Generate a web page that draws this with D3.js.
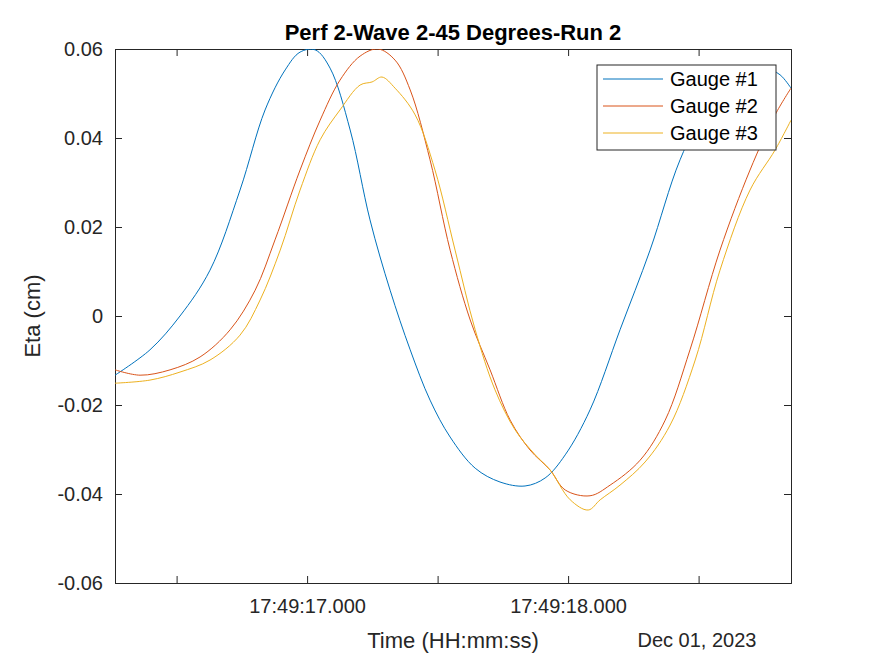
<!DOCTYPE html>
<html>
<head>
<meta charset="utf-8">
<title>Perf 2-Wave 2-45 Degrees-Run 2</title>
<script src="https://cdn.jsdelivr.net/npm/d3@7"></script>
<style>
  body { margin: 0; background: #fff; }
  text { font-family: "Liberation Sans", Arial, sans-serif; }
</style>
</head>
<body>
<div id="chart"></div>
<script>
// seconds after 17:49:16.000 and Eta (cm)
const g1t = [0.264,0.398,0.513,0.628,0.743,0.839,0.916,0.973,1.031,1.088,1.165,1.241,1.318,1.395,1.471,1.548,1.644,1.739,1.835,1.912,1.989,2.084,2.199,2.314,2.429,2.544,2.659,2.755,2.812,2.854];
const g1v = [-0.0133,-0.0076,0.0,0.0103,0.0283,0.0463,0.0553,0.0593,0.0598,0.0557,0.0418,0.0216,0.0058,-0.0076,-0.0189,-0.0272,-0.0342,-0.0373,-0.0382,-0.0364,-0.0312,-0.0211,-0.0031,0.0148,0.0351,0.0485,0.0553,0.0557,0.0542,0.0512];
const g2t = [0.264,0.360,0.475,0.590,0.705,0.801,0.877,0.973,1.050,1.126,1.203,1.272,1.337,1.395,1.471,1.548,1.625,1.701,1.778,1.854,1.931,1.989,2.084,2.161,2.276,2.372,2.467,2.582,2.697,2.793,2.854];
const g2v = [-0.0121,-0.0133,-0.0121,-0.0092,-0.0031,0.0058,0.0171,0.0328,0.0440,0.0530,0.0584,0.0600,0.0575,0.0508,0.0351,0.0148,-0.0009,-0.0121,-0.0234,-0.0301,-0.0346,-0.0391,-0.0404,-0.0380,-0.0324,-0.0234,-0.0076,0.0148,0.0328,0.0452,0.0512];
const g3t = [0.264,0.398,0.513,0.628,0.743,0.820,0.897,0.973,1.050,1.126,1.203,1.249,1.287,1.337,1.414,1.490,1.567,1.644,1.720,1.797,1.874,1.931,2.008,2.077,2.123,2.199,2.295,2.391,2.487,2.582,2.697,2.793,2.854];
const g3v = [-0.0151,-0.0144,-0.0126,-0.0099,-0.0043,0.0036,0.0148,0.0283,0.0396,0.0463,0.0519,0.0526,0.0537,0.0512,0.0452,0.0328,0.0148,-0.0031,-0.0166,-0.0256,-0.0312,-0.0346,-0.0413,-0.0436,-0.0413,-0.0380,-0.0328,-0.0245,-0.0099,0.0103,0.0283,0.0373,0.0440];
const seriesNames = ["Gauge #1", "Gauge #2", "Gauge #3"];
const colors = ["#0072BD", "#D95319", "#EDB120"];
const yTicks = [-0.06, -0.04, -0.02, 0, 0.02, 0.04, 0.06];
const yLabels = ["-0.06", "-0.04", "-0.02", "0", "0.02", "0.04", "0.06"];

const width = 875, height = 656;
const L = 115, R = 791, T = 49, B = 583;
const base = new Date(2023, 11, 1, 17, 49, 16);
const toDate = s => new Date(base.getTime() + s * 1000);

const svg = d3.select("#chart").append("svg")
    .attr("width", width).attr("height", height);

const x = d3.scaleTime().domain([toDate(0.264), toDate(2.854)]).range([L, R]);
const y = d3.scaleLinear().domain([-0.06, 0.06]).range([B, T]);

svg.append("rect").attr("x", L).attr("y", T).attr("width", R - L).attr("height", B - T)
    .attr("fill", "#fff");

svg.append("clipPath").attr("id", "clip").append("rect")
    .attr("x", L).attr("y", T).attr("width", R - L).attr("height", B - T);

const xTickVals = [0.5, 1, 1.5, 2, 2.5].map(toDate);
const fmt = d3.timeFormat("%H:%M:%S.%L");
const xAxis = d3.axisBottom(x).tickValues(xTickVals).tickSize(-7).tickPadding(16)
    .tickFormat(d => d.getMilliseconds() === 0 ? fmt(d) : "");
const xTop = d3.axisTop(x).tickValues(xTickVals).tickSize(-7).tickFormat("");
const yAxis = d3.axisLeft(y).tickValues(yTicks).tickSize(-7).tickPadding(12)
    .tickFormat((d, i) => yLabels[i]);
const yRight = d3.axisRight(y).tickValues(yTicks).tickSize(-7).tickFormat("");

function style(g) {
  g.select(".domain").attr("stroke", "#262626");
  g.selectAll(".tick line").attr("stroke", "#262626");
  g.selectAll("text").attr("fill", "#262626").style("font-size", "20px");
}
svg.append("g").attr("transform", `translate(0,${B})`).call(xAxis).call(style);
svg.append("g").attr("transform", `translate(0,${T})`).call(xTop).call(style);
svg.append("g").attr("transform", `translate(${L},0)`).call(yAxis).call(style);
svg.append("g").attr("transform", `translate(${R},0)`).call(yRight).call(style);

const line = d3.line().x(d => x(toDate(d[0]))).y(d => y(d[1])).curve(d3.curveCatmullRom);
const data = [d3.zip(g1t, g1v), d3.zip(g2t, g2v), d3.zip(g3t, g3v)];
svg.append("g").attr("clip-path", "url(#clip)").selectAll("path").data(data).join("path")
    .attr("d", line).attr("fill", "none")
    .attr("stroke", (d, i) => colors[i]).attr("stroke-width", 1);

// title and labels
svg.append("text").attr("x", (L + R) / 2).attr("y", 40).attr("text-anchor", "middle")
    .style("font-size", "22px").style("font-weight", "bold").attr("fill", "#000")
    .text("Perf 2-Wave 2-45 Degrees-Run 2");
svg.append("text").attr("x", (L + R) / 2).attr("y", 648).attr("text-anchor", "middle")
    .style("font-size", "22px").attr("fill", "#262626").text("Time (HH:mm:ss)");
svg.append("text").attr("x", 697).attr("y", 647).attr("text-anchor", "middle")
    .style("font-size", "20px").attr("fill", "#262626").text("Dec 01, 2023");
svg.append("text").attr("transform", `translate(40,${(T + B) / 2}) rotate(-90)`)
    .attr("text-anchor", "middle").style("font-size", "22px").attr("fill", "#262626")
    .text("Eta (cm)");

// legend
const lg = svg.append("g").attr("transform", "translate(597,65)");
lg.append("rect").attr("width", 179).attr("height", 85).attr("fill", "#fff")
    .attr("stroke", "#262626").attr("stroke-width", 1);
seriesNames.forEach((n, i) => {
  const yy = 14 + i * 27;
  lg.append("line").attr("x1", 6).attr("x2", 66).attr("y1", yy).attr("y2", yy)
      .attr("stroke", colors[i]).attr("stroke-width", 1);
  lg.append("text").attr("x", 73).attr("y", yy + 7).style("font-size", "20px")
      .attr("fill", "#000").text(n);
});
</script>
</body>
</html>
